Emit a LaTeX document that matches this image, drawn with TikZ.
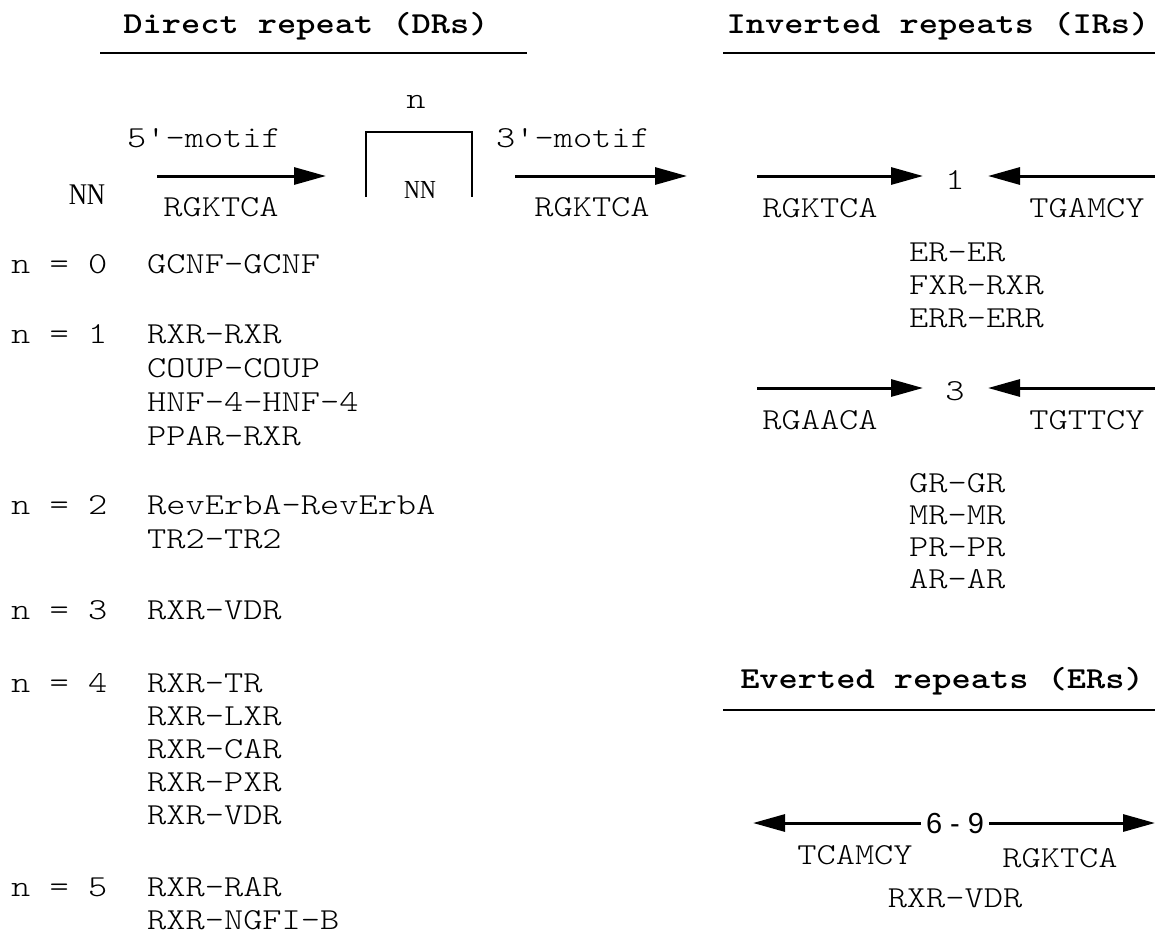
\documentclass[tikz,border=0pt]{standalone}
\usepackage{fontspec}
\newfontfamily\cour{lmmonolt10-regular}[Extension=.otf, BoldFont=lmmonolt10-bold, FakeStretch=1.2]
\newfontfamily\serifnn{Liberation Serif}[FakeStretch=0.84]
\newfontfamily\sansnn{Liberation Sans}
\usetikzlibrary{arrows.meta}
\begin{document}
\begin{tikzpicture}[x=1pt,y=-1pt,
  txt/.style={inner sep=0pt, font=\fontsize{30.5}{30.5}\cour},
  ttl/.style={inner sep=0pt, font=\fontsize{30.5}{30.5}\cour\bfseries},
  nnl/.style={inner sep=0pt, font=\fontsize{30}{30}\serifnn},
  nns/.style={inner sep=0pt, font=\fontsize{26}{26}\serifnn},
  seq/.style={line width=3pt, -{Triangle[length=32pt,width=17pt]}},
  rule/.style={line width=2.5pt},
  brk/.style={line width=2.5pt}]
\useasboundingbox (0,0) rectangle (1155,937);
% headers
\node[ttl, anchor=base] (drt) at (306,33) {Direct repeat (DRs)};
\coordinate (drl) at (100,53); \coordinate (drr) at (527,53);
\draw[rule] (drl) -- (drr);
\node[ttl, anchor=base] (irt) at (938,33) {Inverted repeats (IRs)};
\coordinate (irl) at (723,53); \coordinate (irr) at (1155,53);
\draw[rule] (irl) -- (irr);
\node[ttl, anchor=base] (ert) at (942,688) {Everted repeats (ERs)};
\coordinate (erl) at (723,710); \coordinate (err) at (1155,710);
\draw[rule] (erl) -- (err);
% DR scheme
\node[txt, anchor=base] (n) at (416,108) {n};
\coordinate (b1) at (366,197); \coordinate (b2) at (366,132);
\coordinate (b3) at (472,132); \coordinate (b4) at (472,197);
\draw[brk] (b1) -- (b2) -- (b3) -- (b4);
\node[nns] (nnin) at (420,190) {NN};
\node[txt, anchor=base] (m5) at (204,147) {5'-motif};
\coordinate (a1s) at (157,176); \coordinate (a1e) at (326,176);
\draw[seq] (a1s) -- (a1e);
\node[nnl] (nnleft) at (87,195) {NN};
\node[txt, anchor=base] (s5) at (221,216) {RGKTCA};
\node[txt, anchor=base] (m3) at (573,147) {3'-motif};
\coordinate (a2s) at (515,176); \coordinate (a2e) at (687,176);
\draw[seq] (a2s) -- (a2e);
\node[txt, anchor=base] (s3) at (592,216) {RGKTCA};
% left column
\foreach \lab/\y in {0/273, 1/343, 2/514, 3/619, 4/692, 5/896}
  \node[txt, anchor=base west] (n\lab) at (11,\y) {n = \lab};
\foreach \t/\y [count=\i] in {GCNF-GCNF/273, RXR-RXR/343, COUP-COUP/377, HNF-4-HNF-4/411, PPAR-RXR/445,
   RevErbA-RevErbA/514, TR2-TR2/548, RXR-VDR/619, RXR-TR/692, RXR-LXR/725, RXR-CAR/758,
   RXR-PXR/791, RXR-VDR/824, RXR-RAR/896, RXR-NGFI-B/929}
  \node[txt, anchor=base west] (l\i) at (147,\y) {\t};
% IR 1
\node[txt, anchor=base] (one) at (955,189) {1};
\coordinate (i1a) at (757,176); \coordinate (i1t) at (923,176);
\coordinate (i1b) at (1155,176); \coordinate (i1u) at (988,176);
\draw[seq] (i1a) -- (i1t);
\draw[seq] (i1b) -- (i1u);
\node[txt, anchor=base] (r1l) at (820,217) {RGKTCA};
\node[txt, anchor=base] (r1r) at (1087,217) {TGAMCY};
\foreach \t/\y [count=\i] in {ER-ER/261, FXR-RXR/294, ERR-ERR/327}
  \node[txt, anchor=base west] (ir\i) at (909,\y) {\t};
% IR 3
\node[txt, anchor=base] (three) at (955,400) {3};
\coordinate (i3a) at (757,388); \coordinate (i3t) at (923,388);
\coordinate (i3b) at (1155,388); \coordinate (i3u) at (988,388);
\draw[seq] (i3a) -- (i3t);
\draw[seq] (i3b) -- (i3u);
\node[txt, anchor=base] (r3l) at (820,429) {RGAACA};
\node[txt, anchor=base] (r3r) at (1087,429) {TGTTCY};
\foreach \t/\y [count=\i] in {GR-GR/492, MR-MR/524, PR-PR/556, AR-AR/588}
  \node[txt, anchor=base west] (gr\i) at (909,\y) {\t};
% ER
\node[inner sep=5pt, font=\fontsize{29}{29}\sansnn] (sixnine) at (955,824) {6 - 9};
\coordinate (e1) at (753,823); \coordinate (e2) at (1155,823);
\draw[seq] (sixnine.west |- e1) -- (e1);
\draw[seq] (sixnine.east |- e2) -- (e2);
\node[txt, anchor=base] (el) at (855,864) {TCAMCY};
\node[txt, anchor=base] (er) at (1060,867) {RGKTCA};
\node[txt, anchor=base] (ervdr) at (955,907) {RXR-VDR};
\end{tikzpicture}
\end{document}
